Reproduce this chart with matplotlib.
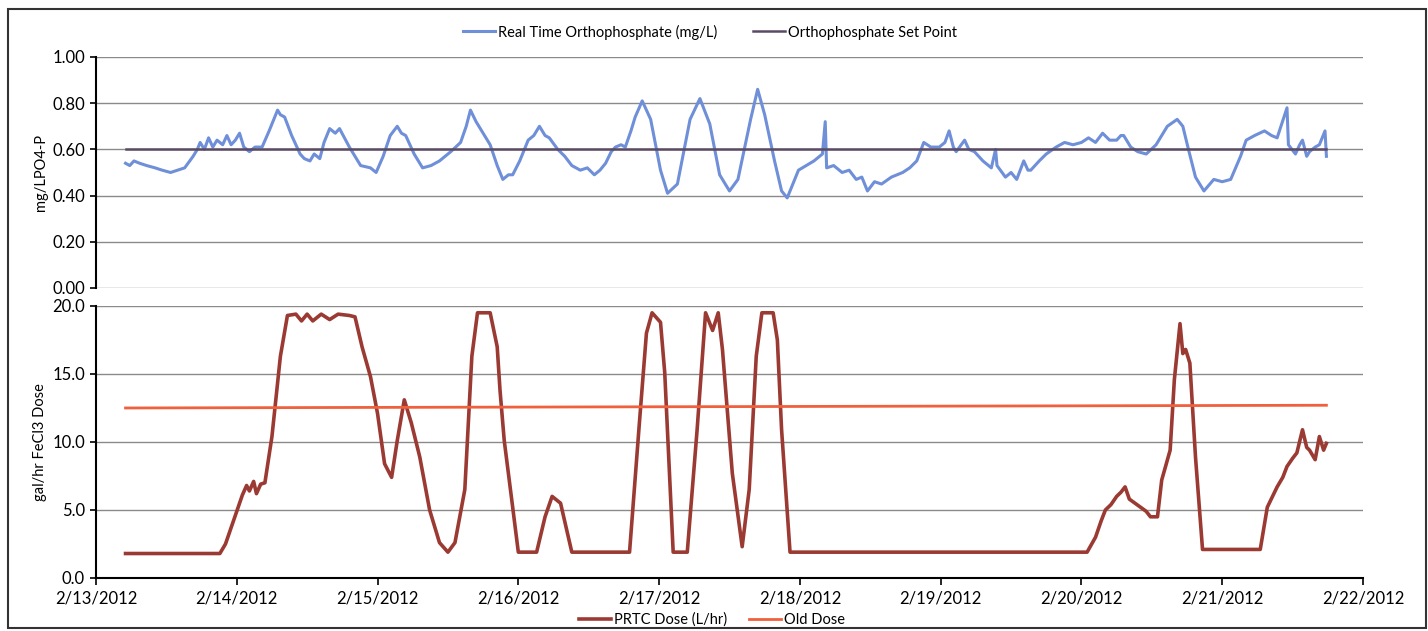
import numpy as np
import pandas as pd
from matplotlib import pyplot as plt
import matplotlib.dates as mdates
from matplotlib.patches import Rectangle

plt.rcParams['font.family'] = ['Lato', 'DejaVu Sans']

start = pd.Timestamp('2012-02-13')

# orthophosphate, days after 2/13/2012 and mg/L
ortho_days = [0.21, 0.24, 0.27, 0.31, 0.36, 0.42, 0.47, 0.53, 0.58, 0.63, 0.69, 0.72, 0.74,
              0.77, 0.80, 0.83, 0.86, 0.90, 0.93, 0.96, 0.99, 1.02, 1.05, 1.09, 1.13, 1.18,
              1.23, 1.29, 1.31, 1.34, 1.39, 1.45, 1.48, 1.52, 1.55, 1.59, 1.62, 1.66, 1.70,
              1.73, 1.80, 1.88, 1.95, 1.99, 2.04, 2.09, 2.14, 2.17, 2.20, 2.26, 2.32, 2.38,
              2.44, 2.52, 2.59, 2.63, 2.66, 2.70, 2.75, 2.80, 2.85, 2.89, 2.93, 2.96, 3.01,
              3.07, 3.11, 3.15, 3.19, 3.22, 3.28, 3.33, 3.38, 3.44, 3.49, 3.54, 3.58, 3.62,
              3.66, 3.69, 3.73, 3.76, 3.80, 3.83, 3.88, 3.94, 4.01, 4.06, 4.13, 4.22, 4.29,
              4.36, 4.43, 4.50, 4.56, 4.65, 4.70, 4.75, 4.82, 4.87, 4.91, 4.99, 5.10, 5.16,
              5.18, 5.19, 5.24, 5.30, 5.35, 5.40, 5.44, 5.48, 5.53, 5.58, 5.65, 5.73, 5.78,
              5.83, 5.88, 5.93, 5.99, 6.03, 6.06, 6.09, 6.11, 6.17, 6.20, 6.24, 6.30, 6.36,
              6.39, 6.40, 6.46, 6.50, 6.54, 6.59, 6.62, 6.64, 6.70, 6.75, 6.82, 6.88, 6.94,
              7.00, 7.05, 7.10, 7.15, 7.20, 7.25, 7.28, 7.30, 7.35, 7.40, 7.46, 7.53, 7.61,
              7.68, 7.72, 7.76, 7.81, 7.87, 7.94, 8.00, 8.06, 8.13, 8.17, 8.23, 8.30, 8.35,
              8.39, 8.46, 8.47, 8.52, 8.55, 8.57, 8.60, 8.62, 8.66, 8.69, 8.73, 8.74]
ortho_vals = [0.54, 0.53, 0.55, 0.54, 0.53, 0.52, 0.51, 0.50, 0.51, 0.52, 0.57, 0.60, 0.63,
              0.60, 0.65, 0.61, 0.64, 0.62, 0.66, 0.62, 0.64, 0.67, 0.61, 0.59, 0.61, 0.61,
              0.68, 0.77, 0.75, 0.74, 0.66, 0.58, 0.56, 0.55, 0.58, 0.56, 0.63, 0.69, 0.67,
              0.69, 0.61, 0.53, 0.52, 0.50, 0.57, 0.66, 0.70, 0.67, 0.66, 0.58, 0.52, 0.53,
              0.55, 0.59, 0.63, 0.70, 0.77, 0.72, 0.67, 0.62, 0.53, 0.47, 0.49, 0.49, 0.55,
              0.64, 0.66, 0.70, 0.66, 0.65, 0.60, 0.57, 0.53, 0.51, 0.52, 0.49, 0.51, 0.54,
              0.59, 0.61, 0.62, 0.61, 0.68, 0.74, 0.81, 0.73, 0.51, 0.41, 0.45, 0.73, 0.82,
              0.71, 0.49, 0.42, 0.47, 0.73, 0.86, 0.75, 0.55, 0.42, 0.39, 0.51, 0.55, 0.58,
              0.72, 0.52, 0.53, 0.50, 0.51, 0.47, 0.48, 0.42, 0.46, 0.45, 0.48, 0.50, 0.52,
              0.55, 0.63, 0.61, 0.61, 0.63, 0.68, 0.61, 0.59, 0.64, 0.60, 0.59, 0.55, 0.52,
              0.60, 0.53, 0.48, 0.50, 0.47, 0.55, 0.51, 0.51, 0.55, 0.58, 0.61, 0.63, 0.62,
              0.63, 0.65, 0.63, 0.67, 0.64, 0.64, 0.66, 0.66, 0.61, 0.59, 0.58, 0.62, 0.70,
              0.73, 0.70, 0.60, 0.48, 0.42, 0.47, 0.46, 0.47, 0.57, 0.64, 0.66, 0.68, 0.66,
              0.65, 0.78, 0.62, 0.58, 0.62, 0.64, 0.57, 0.59, 0.61, 0.62, 0.68, 0.57]
setpoint_days = [0.21, 8.74]
setpoint_vals = [0.60, 0.60]

# ferric chloride dose
dose_days = [0.21, 0.88, 0.92, 0.97, 1.04, 1.07, 1.09, 1.12, 1.14, 1.17, 1.20, 1.25, 1.31,
             1.36, 1.42, 1.46, 1.50, 1.54, 1.60, 1.66, 1.72, 1.80, 1.84, 1.89, 1.95, 2.00,
             2.05, 2.10, 2.14, 2.19, 2.24, 2.30, 2.37, 2.44, 2.50, 2.55, 2.62, 2.67, 2.71,
             2.80, 2.85, 2.87, 2.90, 2.96, 3.00, 3.13, 3.19, 3.24, 3.30, 3.38, 3.79, 3.86,
             3.91, 3.95, 4.01, 4.04, 4.10, 4.20, 4.27, 4.33, 4.38, 4.42, 4.45, 4.52, 4.59,
             4.64, 4.69, 4.73, 4.81, 4.84, 4.87, 4.93, 7.04, 7.10, 7.14, 7.17, 7.21, 7.25,
             7.28, 7.31, 7.34, 7.38, 7.42, 7.46, 7.49, 7.54, 7.57, 7.63, 7.66, 7.70, 7.72,
             7.74, 7.77, 7.81, 7.86, 8.27, 8.32, 8.39, 8.43, 8.46, 8.50, 8.53, 8.57, 8.60,
             8.62, 8.66, 8.69, 8.72, 8.74]
dose_vals = [1.8, 1.8, 2.5, 4.0, 6.1, 6.8, 6.4, 7.1, 6.2, 6.9, 7.0, 10.4, 16.3,
             19.3, 19.4, 18.9, 19.4, 18.9, 19.4, 19.0, 19.4, 19.3, 19.2, 17.0, 14.8, 12.1,
             8.4, 7.4, 10.1, 13.1, 11.4, 8.9, 5.0, 2.6, 1.9, 2.6, 6.5, 16.3, 19.5,
             19.5, 17.0, 13.8, 10.1, 5.2, 1.9, 1.9, 4.5, 6.0, 5.5, 1.9, 1.9, 11.4,
             18.0, 19.5, 18.8, 15.1, 1.9, 1.9, 10.9, 19.5, 18.2, 19.5, 16.8, 7.7, 2.3,
             6.5, 16.3, 19.5, 19.5, 17.5, 10.9, 1.9, 1.9, 3.0, 4.2, 5.0, 5.4, 6.0,
             6.3, 6.7, 5.8, 5.5, 5.2, 4.9, 4.5, 4.5, 7.2, 9.4, 14.6, 18.7, 16.5,
             16.8, 15.8, 8.9, 2.1, 2.1, 5.2, 6.7, 7.4, 8.2, 8.8, 9.2, 10.9, 9.6,
             9.4, 8.7, 10.4, 9.4, 9.9]
old_days = [0.21, 8.74]
old_vals = [12.5, 12.7]


def to_dates(days):
    return start + pd.to_timedelta(np.array(days), unit='D')


fig = plt.figure(figsize=(14.28, 6.31), dpi=100)
fig.patches.append(Rectangle((8 / 1428, 3 / 631), 1418 / 1428, 619 / 631, transform=fig.transFigure,
                             fill=False, edgecolor='#333333', linewidth=1.5))

ax1 = fig.add_axes([0.0672, 0.5436, 0.8873, 0.3661])
ax2 = fig.add_axes([0.0672, 0.0840, 0.8873, 0.4311])

xmin, xmax = start, start + pd.Timedelta(days=9)

l1, = ax1.plot(to_dates(ortho_days), ortho_vals, color='#6f8fd8', lw=2.2,
               label='Real Time Orthophosphate (mg/L)')
l2, = ax1.plot(to_dates(setpoint_days), setpoint_vals, color='#5b4a63', lw=1.8,
               label='Orthophosphate Set Point')
ax1.set_ylim(0, 1.0)
ax1.set_yticks(np.arange(0, 1.01, 0.2))
ax1.set_yticklabels(['%.2f' % v for v in np.arange(0, 1.01, 0.2)])
ax1.set_ylabel('mg/LPO4-P', fontsize=10.5, labelpad=3)

l3, = ax2.plot(to_dates(dose_days), dose_vals, color='#9b3a33', lw=2.6, label='PRTC Dose (L/hr)')
l4, = ax2.plot(to_dates(old_days), old_vals, color='#f0603c', lw=2.0, label='Old Dose')
ax2.set_ylim(0, 20)
ax2.set_yticks(np.arange(0, 20.1, 5))
ax2.set_yticklabels(['%.1f' % v for v in np.arange(0, 20.1, 5)])
ax2.set_ylabel('gal/hr FeCl3 Dose', fontsize=10.5, labelpad=4)

for ax in (ax1, ax2):
    ax.set_xlim(xmin, xmax)
    ax.grid(axis='y', color='#8a8a8a', lw=1.0)
    ax.set_axisbelow(True)
    for s in ('top', 'right'):
        ax.spines[s].set_visible(False)
    ax.spines['left'].set_linewidth(1.5)
    ax.tick_params(axis='y', labelsize=12, length=4, width=1.2, direction='out', pad=4)
    ax.xaxis.set_major_locator(mdates.DayLocator())
    ax.xaxis.set_major_formatter(mdates.DateFormatter('%-m/%-d/%Y'))

ax1.spines['bottom'].set_visible(False)
ax1.tick_params(axis='x', bottom=False, labelbottom=False)
ax2.spines['bottom'].set_linewidth(1.5)
ax2.tick_params(axis='x', labelsize=12, length=5, width=1.2, direction='out', pad=4)

fig.legend(handles=[l1, l2], loc='center', bbox_to_anchor=(710 / 1428, 1 - 32 / 631), ncol=2,
           frameon=False, fontsize=10.5, handlelength=2.2, columnspacing=2.5, handletextpad=0.2)
fig.legend(handles=[l3, l4], loc='center', bbox_to_anchor=(712 / 1428, 1 - 620 / 631), ncol=2,
           frameon=False, fontsize=10.5, handlelength=2.2, columnspacing=1.5, handletextpad=0.2)

plt.savefig('out.png', dpi=100)
